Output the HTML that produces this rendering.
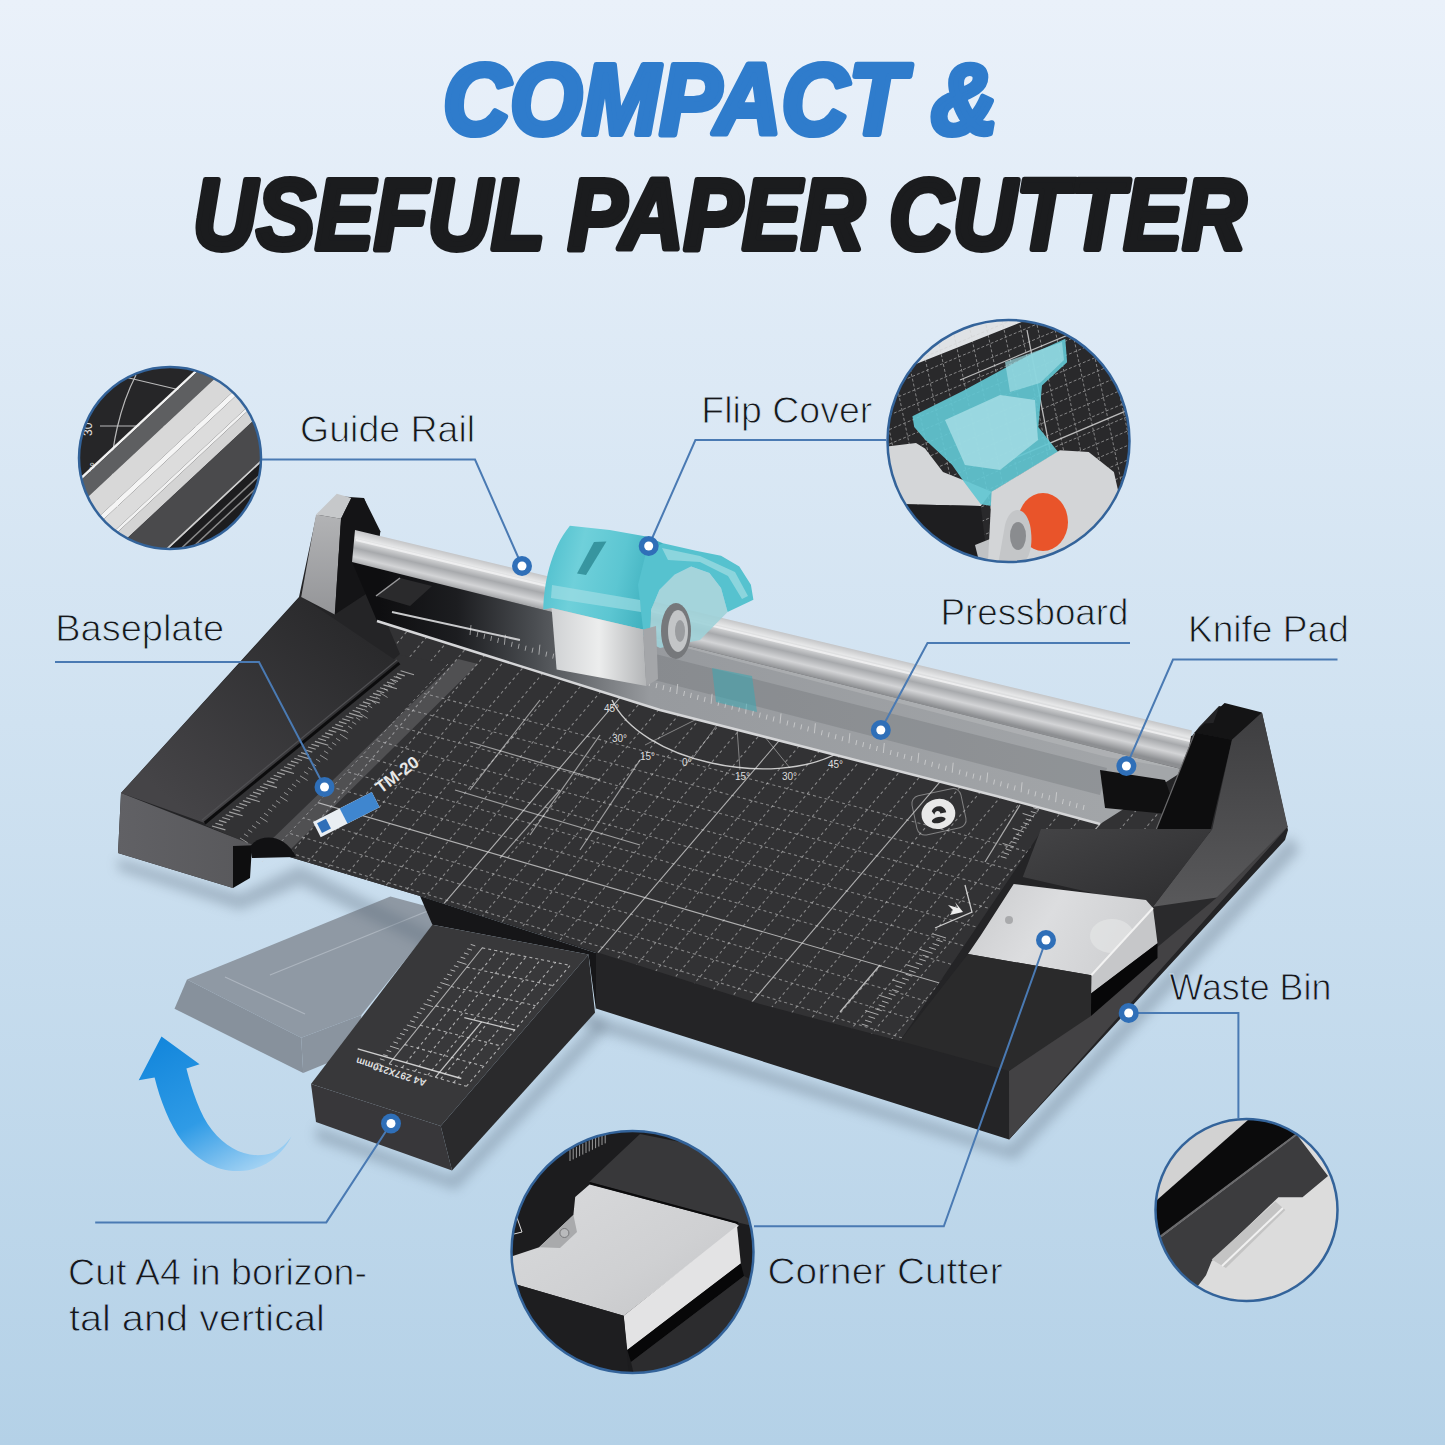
<!DOCTYPE html>
<html><head><meta charset="utf-8"><title>Compact &amp; Useful Paper Cutter</title>
<style>html,body{margin:0;padding:0;width:1445px;height:1445px;overflow:hidden;background:#dce8f4;font-family:"Liberation Sans",sans-serif}svg{display:block}</style>
</head><body>
<svg width="1445" height="1445" viewBox="0 0 1445 1445">
<defs>
<linearGradient id="bg" x1="0" y1="0" x2="0" y2="1">
  <stop offset="0" stop-color="#eaf1fa"/>
  <stop offset="0.5" stop-color="#d0e2f1"/>
  <stop offset="1" stop-color="#b4d1e7"/>
</linearGradient>
<linearGradient id="rail" gradientUnits="userSpaceOnUse" x1="355" y1="530" x2="346.5" y2="565.5">
  <stop offset="0" stop-color="#c4c5c7"/>
  <stop offset="0.2" stop-color="#e6e7e8"/>
  <stop offset="0.48" stop-color="#a7a9ac"/>
  <stop offset="0.72" stop-color="#d3d4d6"/>
  <stop offset="1" stop-color="#8d8f92"/>
</linearGradient>
<linearGradient id="teal" x1="0" y1="0" x2="1" y2="0.2">
  <stop offset="0" stop-color="#49bccb"/>
  <stop offset="0.35" stop-color="#6fd0da"/>
  <stop offset="0.7" stop-color="#5cc6d2"/>
  <stop offset="1" stop-color="#3fb0be"/>
</linearGradient>
<linearGradient id="silv" x1="0" y1="0" x2="1" y2="0">
  <stop offset="0" stop-color="#cfd1d3"/>
  <stop offset="0.5" stop-color="#eceded"/>
  <stop offset="1" stop-color="#b3b5b7"/>
</linearGradient>
<linearGradient id="arrow" x1="0.2" y1="0" x2="0.8" y2="1">
  <stop offset="0" stop-color="#1487dc"/>
  <stop offset="0.55" stop-color="#2f9be6"/>
  <stop offset="1" stop-color="#a9d5f4"/>
</linearGradient>
<linearGradient id="blockfront" x1="0" y1="0" x2="1" y2="0">
  <stop offset="0" stop-color="#616165"/>
  <stop offset="1" stop-color="#58585b"/>
</linearGradient>
<linearGradient id="towerface" x1="0" y1="0" x2="0" y2="1">
  <stop offset="0" stop-color="#b2b3b5"/>
  <stop offset="1" stop-color="#949598"/>
</linearGradient>
<clipPath id="c1"><circle cx="170" cy="458" r="91"/></clipPath>
<clipPath id="c2"><circle cx="1008.5" cy="441" r="121"/></clipPath>
<clipPath id="c3"><circle cx="632.5" cy="1252" r="121"/></clipPath>
<clipPath id="c4"><circle cx="1246.5" cy="1210" r="91"/></clipPath>
</defs>

<rect x="0" y="0" width="1445" height="1445" fill="url(#bg)"/>
<text x="443" y="134" font-family="Liberation Sans" font-weight="bold" font-style="italic" font-size="100" fill="#2f7ccc" stroke="#2f7ccc" stroke-width="6" stroke-linejoin="round" textLength="555" lengthAdjust="spacingAndGlyphs">COMPACT &amp;</text>
<text x="193" y="249" font-family="Liberation Sans" font-weight="bold" font-style="italic" font-size="100" fill="#1b1c1e" stroke="#1b1c1e" stroke-width="6" stroke-linejoin="round" textLength="1053" lengthAdjust="spacingAndGlyphs">USEFUL PAPER CUTTER</text>
<polygon points="187.0,979.6 390.4,896.6 444.4,911.1 361.4,1015.0 301.2,1037.8" fill="#8f99a4" />
<polygon points="187.0,979.6 301.2,1037.8 303.2,1073.0 174.5,1008.7" fill="#87919c" />
<polygon points="301.2,1037.8 361.4,1015.0 359.3,1050.0 303.2,1073.0" fill="#8a949f" />
<g stroke="#b9c1ca" stroke-width="1" opacity="0.7" fill="none">
<line x1="225.0" y1="977.0" x2="305.0" y2="1014.0" stroke="#b9c1ca" stroke-width="1.2" />
<line x1="270.0" y1="975.0" x2="440.0" y2="906.0" stroke="#b9c1ca" stroke-width="1.2" />
</g>
<path d="M161.5,1036.6 L199.6,1064.3 L186.4,1068.4 C192,1090 200,1115 212,1130 C228,1150 250,1160 272,1153 C280,1150 287,1143 291.6,1136.3 C282,1155 265,1170 240,1171 C215,1172 195,1158 182,1141 C170,1125 160,1100 154.6,1077.4 L138.7,1080.2 Z" fill="url(#arrow)"/>
<filter id="shb" x="-20%" y="-20%" width="140%" height="140%"><feGaussianBlur stdDeviation="6"/></filter>
<polygon points="118,858 240,894 300,865 596,1016 1009,1146 1290,836 1300,850 1015,1160 596,1030 300,885 240,910 118,870" fill="#5a6a7a" opacity="0.35" filter="url(#shb)"/>
<polygon points="316,1126 452,1176 600,1016 606,1030 456,1190 316,1140" fill="#5a6a7a" opacity="0.35" filter="url(#shb)"/>
<polygon points="121.0,793.0 299.0,597.0 316.0,517.0 336.0,496.0 364.0,498.0 380.0,540.0 1192.0,736.0 1199.0,727.0 1219.0,706.0 1262.0,713.0 1288.0,830.0 1285.0,840.0 1009.0,1139.6 596.0,1008.5 596.0,953.0 420.0,896.0 293.0,858.0 253.0,846.0 233.0,846.0 233.0,888.0 118.0,853.0" fill="#242426" />
<clipPath id="matclip"><polygon points="377.0,600.0 1150.0,795.0 1210.0,833.0 1042.0,830.0 900.0,1041.0 760.0,1004.0 420.0,896.0 293.0,858.0 253.0,845.0 205.0,825.0 400.0,654.0"/></clipPath>
<polygon points="377.0,600.0 1150.0,795.0 1210.0,833.0 1042.0,830.0 900.0,1041.0 760.0,1004.0 420.0,896.0 293.0,858.0 253.0,845.0 205.0,825.0 400.0,654.0" fill="#323234" />
<g clip-path="url(#matclip)" fill="none">
<line x1="250.0" y1="647.9" x2="1100.0" y2="870.6" stroke="#d9d9d9" stroke-width="1.1" stroke-dasharray="3,3" opacity="0.5"/>
<line x1="250.0" y1="667.2" x2="1100.0" y2="893.3" stroke="#d9d9d9" stroke-width="1.1" stroke-dasharray="3,3" opacity="0.5"/>
<line x1="250.0" y1="686.5" x2="1100.0" y2="916.0" stroke="#d9d9d9" stroke-width="1.1" stroke-dasharray="3,3" opacity="0.5"/>
<line x1="250.0" y1="705.8" x2="1100.0" y2="938.7" stroke="#d9d9d9" stroke-width="1.1" stroke-dasharray="3,3" opacity="0.5"/>
<line x1="250.0" y1="725.1" x2="1100.0" y2="961.4" stroke="#d9d9d9" stroke-width="1.1" stroke-dasharray="3,3" opacity="0.5"/>
<line x1="250.0" y1="744.4" x2="1100.0" y2="984.1" stroke="#d9d9d9" stroke-width="1.1" stroke-dasharray="3,3" opacity="0.5"/>
<line x1="250.0" y1="763.7" x2="1100.0" y2="1006.8" stroke="#d9d9d9" stroke-width="1.1" stroke-dasharray="3,3" opacity="0.5"/>
<line x1="250.0" y1="783.0" x2="1100.0" y2="1029.5" stroke="#d9d9d9" stroke-width="1.1"  opacity="0.75"/>
<line x1="250.0" y1="802.3" x2="1100.0" y2="1052.2" stroke="#d9d9d9" stroke-width="1.1" stroke-dasharray="3,3" opacity="0.5"/>
<line x1="250.0" y1="821.6" x2="1100.0" y2="1074.9" stroke="#d9d9d9" stroke-width="1.1" stroke-dasharray="3,3" opacity="0.5"/>
<line x1="250.0" y1="840.9" x2="1100.0" y2="1097.6" stroke="#d9d9d9" stroke-width="1.1" stroke-dasharray="3,3" opacity="0.5"/>
<line x1="250.0" y1="860.2" x2="1100.0" y2="1120.3" stroke="#d9d9d9" stroke-width="1.1"  opacity="0.75"/>
<line x1="250.0" y1="879.5" x2="1100.0" y2="1143.0" stroke="#d9d9d9" stroke-width="1.1" stroke-dasharray="3,3" opacity="0.5"/>
<line x1="250.0" y1="898.8" x2="1100.0" y2="1165.7" stroke="#d9d9d9" stroke-width="1.1" stroke-dasharray="3,3" opacity="0.5"/>
<line x1="250.0" y1="918.1" x2="1100.0" y2="1188.4" stroke="#d9d9d9" stroke-width="1.1" stroke-dasharray="3,3" opacity="0.5"/>
<line x1="250.0" y1="937.4" x2="1100.0" y2="1211.1" stroke="#d9d9d9" stroke-width="1.1"  opacity="0.75"/>
<line x1="250.0" y1="956.7" x2="1100.0" y2="1233.8" stroke="#d9d9d9" stroke-width="1.1" stroke-dasharray="3,3" opacity="0.5"/>
<line x1="250.0" y1="976.0" x2="1100.0" y2="1256.5" stroke="#d9d9d9" stroke-width="1.1" stroke-dasharray="3,3" opacity="0.5"/>
<line x1="409.4" y1="600.0" x2="-17.9" y2="1100.0" stroke="#d9d9d9" stroke-width="1.1" stroke-dasharray="3,3" opacity="0.5"/>
<line x1="433.9" y1="600.0" x2="6.6" y2="1100.0" stroke="#d9d9d9" stroke-width="1.1" stroke-dasharray="3,3" opacity="0.5"/>
<line x1="458.4" y1="600.0" x2="31.1" y2="1100.0" stroke="#d9d9d9" stroke-width="1.1" stroke-dasharray="3,3" opacity="0.5"/>
<line x1="482.9" y1="600.0" x2="55.6" y2="1100.0" stroke="#d9d9d9" stroke-width="1.1" stroke-dasharray="3,3" opacity="0.5"/>
<line x1="507.4" y1="600.0" x2="80.1" y2="1100.0" stroke="#d9d9d9" stroke-width="1.1" stroke-dasharray="3,3" opacity="0.5"/>
<line x1="531.9" y1="600.0" x2="104.6" y2="1100.0" stroke="#d9d9d9" stroke-width="1.1" stroke-dasharray="3,3" opacity="0.5"/>
<line x1="556.4" y1="600.0" x2="129.1" y2="1100.0" stroke="#d9d9d9" stroke-width="1.1" stroke-dasharray="3,3" opacity="0.5"/>
<line x1="580.9" y1="600.0" x2="153.6" y2="1100.0" stroke="#d9d9d9" stroke-width="1.1" stroke-dasharray="3,3" opacity="0.5"/>
<line x1="605.4" y1="600.0" x2="178.1" y2="1100.0" stroke="#d9d9d9" stroke-width="1.1" stroke-dasharray="3,3" opacity="0.5"/>
<line x1="629.9" y1="600.0" x2="202.6" y2="1100.0" stroke="#d9d9d9" stroke-width="1.1" stroke-dasharray="3,3" opacity="0.5"/>
<line x1="654.4" y1="600.0" x2="227.1" y2="1100.0" stroke="#d9d9d9" stroke-width="1.1" stroke-dasharray="3,3" opacity="0.5"/>
<line x1="678.9" y1="600.0" x2="251.6" y2="1100.0" stroke="#d9d9d9" stroke-width="1.1" stroke-dasharray="3,3" opacity="0.5"/>
<line x1="703.4" y1="600.0" x2="276.1" y2="1100.0" stroke="#d9d9d9" stroke-width="1.1"  opacity="0.75"/>
<line x1="727.9" y1="600.0" x2="300.6" y2="1100.0" stroke="#d9d9d9" stroke-width="1.1" stroke-dasharray="3,3" opacity="0.5"/>
<line x1="752.4" y1="600.0" x2="325.1" y2="1100.0" stroke="#d9d9d9" stroke-width="1.1" stroke-dasharray="3,3" opacity="0.5"/>
<line x1="776.9" y1="600.0" x2="349.6" y2="1100.0" stroke="#d9d9d9" stroke-width="1.1" stroke-dasharray="3,3" opacity="0.5"/>
<line x1="801.4" y1="600.0" x2="374.1" y2="1100.0" stroke="#d9d9d9" stroke-width="1.1" stroke-dasharray="3,3" opacity="0.5"/>
<line x1="825.9" y1="600.0" x2="398.6" y2="1100.0" stroke="#d9d9d9" stroke-width="1.1" stroke-dasharray="3,3" opacity="0.5"/>
<line x1="850.4" y1="600.0" x2="423.1" y2="1100.0" stroke="#d9d9d9" stroke-width="1.1" stroke-dasharray="3,3" opacity="0.5"/>
<line x1="874.9" y1="600.0" x2="447.6" y2="1100.0" stroke="#d9d9d9" stroke-width="1.1" stroke-dasharray="3,3" opacity="0.5"/>
<line x1="899.4" y1="600.0" x2="472.1" y2="1100.0" stroke="#d9d9d9" stroke-width="1.1"  opacity="0.75"/>
<line x1="923.9" y1="600.0" x2="496.6" y2="1100.0" stroke="#d9d9d9" stroke-width="1.1" stroke-dasharray="3,3" opacity="0.5"/>
<line x1="948.4" y1="600.0" x2="521.1" y2="1100.0" stroke="#d9d9d9" stroke-width="1.1" stroke-dasharray="3,3" opacity="0.5"/>
<line x1="972.9" y1="600.0" x2="545.6" y2="1100.0" stroke="#d9d9d9" stroke-width="1.1" stroke-dasharray="3,3" opacity="0.5"/>
<line x1="997.4" y1="600.0" x2="570.1" y2="1100.0" stroke="#d9d9d9" stroke-width="1.1" stroke-dasharray="3,3" opacity="0.5"/>
<line x1="1021.9" y1="600.0" x2="594.6" y2="1100.0" stroke="#d9d9d9" stroke-width="1.1" stroke-dasharray="3,3" opacity="0.5"/>
<line x1="1046.4" y1="600.0" x2="619.1" y2="1100.0" stroke="#d9d9d9" stroke-width="1.1" stroke-dasharray="3,3" opacity="0.5"/>
<line x1="1070.9" y1="600.0" x2="643.6" y2="1100.0" stroke="#d9d9d9" stroke-width="1.1" stroke-dasharray="3,3" opacity="0.5"/>
<line x1="1095.4" y1="600.0" x2="668.1" y2="1100.0" stroke="#d9d9d9" stroke-width="1.1"  opacity="0.75"/>
<line x1="1119.9" y1="600.0" x2="692.6" y2="1100.0" stroke="#d9d9d9" stroke-width="1.1" stroke-dasharray="3,3" opacity="0.5"/>
<line x1="1144.4" y1="600.0" x2="717.1" y2="1100.0" stroke="#d9d9d9" stroke-width="1.1" stroke-dasharray="3,3" opacity="0.5"/>
<line x1="1168.9" y1="600.0" x2="741.6" y2="1100.0" stroke="#d9d9d9" stroke-width="1.1" stroke-dasharray="3,3" opacity="0.5"/>
<line x1="1193.4" y1="600.0" x2="766.1" y2="1100.0" stroke="#d9d9d9" stroke-width="1.1" stroke-dasharray="3,3" opacity="0.5"/>
<line x1="1217.9" y1="600.0" x2="790.6" y2="1100.0" stroke="#d9d9d9" stroke-width="1.1" stroke-dasharray="3,3" opacity="0.5"/>
<line x1="1242.4" y1="600.0" x2="815.1" y2="1100.0" stroke="#d9d9d9" stroke-width="1.1" stroke-dasharray="3,3" opacity="0.5"/>
<line x1="1266.9" y1="600.0" x2="839.6" y2="1100.0" stroke="#d9d9d9" stroke-width="1.1" stroke-dasharray="3,3" opacity="0.5"/>
<line x1="1291.4" y1="600.0" x2="864.1" y2="1100.0" stroke="#d9d9d9" stroke-width="1.1"  opacity="0.75"/>
<line x1="1315.9" y1="600.0" x2="888.6" y2="1100.0" stroke="#d9d9d9" stroke-width="1.1" stroke-dasharray="3,3" opacity="0.5"/>
<line x1="1340.4" y1="600.0" x2="913.1" y2="1100.0" stroke="#d9d9d9" stroke-width="1.1" stroke-dasharray="3,3" opacity="0.5"/>
<line x1="1364.9" y1="600.0" x2="937.6" y2="1100.0" stroke="#d9d9d9" stroke-width="1.1" stroke-dasharray="3,3" opacity="0.5"/>
<line x1="1389.4" y1="600.0" x2="962.1" y2="1100.0" stroke="#d9d9d9" stroke-width="1.1" stroke-dasharray="3,3" opacity="0.5"/>
<line x1="1413.9" y1="600.0" x2="986.6" y2="1100.0" stroke="#d9d9d9" stroke-width="1.1" stroke-dasharray="3,3" opacity="0.5"/>
<line x1="1438.4" y1="600.0" x2="1011.1" y2="1100.0" stroke="#d9d9d9" stroke-width="1.1" stroke-dasharray="3,3" opacity="0.5"/>
<line x1="1462.9" y1="600.0" x2="1035.6" y2="1100.0" stroke="#d9d9d9" stroke-width="1.1" stroke-dasharray="3,3" opacity="0.5"/>
<line x1="1487.4" y1="600.0" x2="1060.1" y2="1100.0" stroke="#d9d9d9" stroke-width="1.1" stroke-dasharray="3,3" opacity="0.5"/>
<line x1="1511.9" y1="600.0" x2="1084.6" y2="1100.0" stroke="#d9d9d9" stroke-width="1.1" stroke-dasharray="3,3" opacity="0.5"/>
</g>
<g clip-path="url(#matclip)" fill="none" stroke="#e6e6e6">
<path d="M612,700 C640,760 770,790 840,752" stroke-width="1.4" opacity="0.85"/>
<text x="640" y="760" font-family="Liberation Sans" font-size="10" fill="#dddddd" stroke="none">15°</text>
<text x="682" y="766" font-family="Liberation Sans" font-size="10" fill="#dddddd" stroke="none">0°</text>
<text x="735" y="780" font-family="Liberation Sans" font-size="10" fill="#dddddd" stroke="none">15°</text>
<text x="782" y="780" font-family="Liberation Sans" font-size="10" fill="#dddddd" stroke="none">30°</text>
<text x="828" y="768" font-family="Liberation Sans" font-size="10" fill="#dddddd" stroke="none">45°</text>
<text x="612" y="742" font-family="Liberation Sans" font-size="10" fill="#dddddd" stroke="none">30°</text>
<text x="604" y="712" font-family="Liberation Sans" font-size="10" fill="#dddddd" stroke="none">45°</text>
<line x1="735.0" y1="700.0" x2="645.0" y2="745.0" stroke="#e6e6e6" stroke-width="1" opacity="0.45"/>
<line x1="735.0" y1="700.0" x2="690.0" y2="762.0" stroke="#e6e6e6" stroke-width="1" opacity="0.45"/>
<line x1="735.0" y1="700.0" x2="740.0" y2="770.0" stroke="#e6e6e6" stroke-width="1" opacity="0.45"/>
<line x1="735.0" y1="700.0" x2="790.0" y2="768.0" stroke="#e6e6e6" stroke-width="1" opacity="0.45"/>
<line x1="735.0" y1="700.0" x2="835.0" y2="754.0" stroke="#e6e6e6" stroke-width="1" opacity="0.45"/>
<line x1="470.0" y1="742.0" x2="600.0" y2="780.0" stroke="#e6e6e6" stroke-width="1.2" opacity="0.6"/>
<line x1="455.0" y1="790.0" x2="640.0" y2="845.0" stroke="#e6e6e6" stroke-width="1.2" opacity="0.6"/>
<line x1="540.0" y1="700.0" x2="470.0" y2="790.0" stroke="#e6e6e6" stroke-width="1.2" opacity="0.6"/>
<line x1="600.0" y1="735.0" x2="530.0" y2="835.0" stroke="#e6e6e6" stroke-width="1.2" opacity="0.6"/>
<line x1="640.0" y1="760.0" x2="580.0" y2="850.0" stroke="#e6e6e6" stroke-width="1.2" opacity="0.6"/>
<line x1="500.0" y1="858.0" x2="560.0" y2="790.0" stroke="#e6e6e6" stroke-width="1.2" opacity="0.6"/>
<line x1="1020.0" y1="805.0" x2="985.0" y2="862.0" stroke="#e0e0e0" stroke-width="1.2" opacity="0.7"/>
<line x1="1044.0" y1="802.0" x2="1032.6" y2="798.4" stroke="#e0e0e0" stroke-width="1" opacity="0.7"/>
<line x1="1041.5" y1="805.8" x2="1035.8" y2="804.0" stroke="#e0e0e0" stroke-width="1" opacity="0.7"/>
<line x1="1039.0" y1="809.5" x2="1033.3" y2="807.7" stroke="#e0e0e0" stroke-width="1" opacity="0.7"/>
<line x1="1036.5" y1="813.2" x2="1030.8" y2="811.5" stroke="#e0e0e0" stroke-width="1" opacity="0.7"/>
<line x1="1034.0" y1="817.0" x2="1022.6" y2="813.4" stroke="#e0e0e0" stroke-width="1" opacity="0.7"/>
<line x1="1031.5" y1="820.8" x2="1025.8" y2="819.0" stroke="#e0e0e0" stroke-width="1" opacity="0.7"/>
<line x1="1029.0" y1="824.5" x2="1023.3" y2="822.7" stroke="#e0e0e0" stroke-width="1" opacity="0.7"/>
<line x1="1026.5" y1="828.2" x2="1020.8" y2="826.5" stroke="#e0e0e0" stroke-width="1" opacity="0.7"/>
<line x1="1024.0" y1="832.0" x2="1012.6" y2="828.4" stroke="#e0e0e0" stroke-width="1" opacity="0.7"/>
<line x1="1021.5" y1="835.8" x2="1015.8" y2="834.0" stroke="#e0e0e0" stroke-width="1" opacity="0.7"/>
<line x1="1019.0" y1="839.5" x2="1013.3" y2="837.7" stroke="#e0e0e0" stroke-width="1" opacity="0.7"/>
<line x1="1016.5" y1="843.2" x2="1010.8" y2="841.5" stroke="#e0e0e0" stroke-width="1" opacity="0.7"/>
<line x1="1014.0" y1="847.0" x2="1002.6" y2="843.4" stroke="#e0e0e0" stroke-width="1" opacity="0.7"/>
<line x1="1011.5" y1="850.8" x2="1005.8" y2="849.0" stroke="#e0e0e0" stroke-width="1" opacity="0.7"/>
<line x1="1009.0" y1="854.5" x2="1003.3" y2="852.7" stroke="#e0e0e0" stroke-width="1" opacity="0.7"/>
<line x1="1006.5" y1="858.2" x2="1000.8" y2="856.5" stroke="#e0e0e0" stroke-width="1" opacity="0.7"/>
<line x1="946.0" y1="938.0" x2="932.7" y2="933.8" stroke="#e0e0e0" stroke-width="1" opacity="0.7"/>
<line x1="942.6" y1="941.8" x2="936.0" y2="939.7" stroke="#e0e0e0" stroke-width="1" opacity="0.7"/>
<line x1="939.2" y1="945.7" x2="932.6" y2="943.6" stroke="#e0e0e0" stroke-width="1" opacity="0.7"/>
<line x1="935.9" y1="949.5" x2="929.2" y2="947.4" stroke="#e0e0e0" stroke-width="1" opacity="0.7"/>
<line x1="932.5" y1="953.3" x2="919.2" y2="949.1" stroke="#e0e0e0" stroke-width="1" opacity="0.7"/>
<line x1="929.1" y1="957.2" x2="922.5" y2="955.1" stroke="#e0e0e0" stroke-width="1" opacity="0.7"/>
<line x1="925.8" y1="961.0" x2="919.1" y2="958.9" stroke="#e0e0e0" stroke-width="1" opacity="0.7"/>
<line x1="922.4" y1="964.8" x2="915.7" y2="962.7" stroke="#e0e0e0" stroke-width="1" opacity="0.7"/>
<line x1="919.0" y1="968.7" x2="905.7" y2="964.5" stroke="#e0e0e0" stroke-width="1" opacity="0.7"/>
<line x1="915.6" y1="972.5" x2="909.0" y2="970.4" stroke="#e0e0e0" stroke-width="1" opacity="0.7"/>
<line x1="912.2" y1="976.3" x2="905.6" y2="974.2" stroke="#e0e0e0" stroke-width="1" opacity="0.7"/>
<line x1="908.9" y1="980.2" x2="902.2" y2="978.1" stroke="#e0e0e0" stroke-width="1" opacity="0.7"/>
<line x1="905.5" y1="984.0" x2="892.2" y2="979.8" stroke="#e0e0e0" stroke-width="1" opacity="0.7"/>
<line x1="902.1" y1="987.8" x2="895.5" y2="985.7" stroke="#e0e0e0" stroke-width="1" opacity="0.7"/>
<line x1="898.8" y1="991.7" x2="892.1" y2="989.6" stroke="#e0e0e0" stroke-width="1" opacity="0.7"/>
<line x1="895.4" y1="995.5" x2="888.7" y2="993.4" stroke="#e0e0e0" stroke-width="1" opacity="0.7"/>
<line x1="892.0" y1="999.3" x2="878.7" y2="995.1" stroke="#e0e0e0" stroke-width="1" opacity="0.7"/>
<line x1="888.6" y1="1003.2" x2="882.0" y2="1001.1" stroke="#e0e0e0" stroke-width="1" opacity="0.7"/>
<line x1="885.2" y1="1007.0" x2="878.6" y2="1004.9" stroke="#e0e0e0" stroke-width="1" opacity="0.7"/>
<line x1="881.9" y1="1010.8" x2="875.2" y2="1008.7" stroke="#e0e0e0" stroke-width="1" opacity="0.7"/>
<line x1="878.5" y1="1014.7" x2="865.2" y2="1010.5" stroke="#e0e0e0" stroke-width="1" opacity="0.7"/>
<line x1="875.1" y1="1018.5" x2="868.5" y2="1016.4" stroke="#e0e0e0" stroke-width="1" opacity="0.7"/>
<line x1="871.8" y1="1022.3" x2="865.1" y2="1020.2" stroke="#e0e0e0" stroke-width="1" opacity="0.7"/>
<line x1="868.4" y1="1026.2" x2="861.7" y2="1024.1" stroke="#e0e0e0" stroke-width="1" opacity="0.7"/>
<line x1="880.0" y1="965.0" x2="840.0" y2="1012.0" stroke="#e0e0e0" stroke-width="1.2" opacity="0.8"/>
<path d="M935,928 L972,912 L965,885" stroke-width="1.3" opacity="0.85"/>
</g>
<path d="M948,905 L958,908 L955,902 L963,912 L950,915 L953,910 Z" fill="#eeeeee"/>
<g transform="translate(938,812) rotate(-12)"><rect x="-24" y="-20" width="50" height="40" rx="8" fill="none" stroke="#cfcfcf" stroke-width="1" opacity="0.5"/><ellipse cx="0" cy="2" rx="17" ry="15" fill="#e8e8e8"/><path d="M-6,-2 C-2,-8 8,-6 8,2 L2,2 C2,-2 -3,-2 -4,2 Z" fill="#29292b"/><ellipse cx="-1" cy="8" rx="7" ry="3" fill="#29292b"/></g>
<g clip-path="url(#matclip)">
<polygon points="400.0,655.0 448.0,664.0 262.0,862.0 205.0,825.0" fill="#323234" />
</g>
<polyline points="448,664 262,862" fill="none" stroke="#cfcfcf" stroke-width="1" stroke-dasharray="3,3" opacity="0.5"/>
<g stroke="#d0d0d0" stroke-width="1.1" opacity="0.7">
<line x1="212.0" y1="826.0" x2="225.4" y2="829.9" stroke="#d0d0d0" stroke-width="1.1" />
<line x1="215.4" y1="823.2" x2="223.1" y2="825.4" stroke="#d0d0d0" stroke-width="1.1" />
<line x1="218.9" y1="820.4" x2="226.5" y2="822.6" stroke="#d0d0d0" stroke-width="1.1" />
<line x1="222.3" y1="817.5" x2="230.0" y2="819.8" stroke="#d0d0d0" stroke-width="1.1" />
<line x1="225.7" y1="814.7" x2="233.4" y2="817.0" stroke="#d0d0d0" stroke-width="1.1" />
<line x1="229.1" y1="811.9" x2="242.6" y2="815.8" stroke="#d0d0d0" stroke-width="1.1" />
<line x1="232.6" y1="809.1" x2="240.3" y2="811.3" stroke="#d0d0d0" stroke-width="1.1" />
<line x1="236.0" y1="806.2" x2="243.7" y2="808.5" stroke="#d0d0d0" stroke-width="1.1" />
<line x1="239.4" y1="803.4" x2="247.1" y2="805.7" stroke="#d0d0d0" stroke-width="1.1" />
<line x1="242.9" y1="800.6" x2="250.5" y2="802.8" stroke="#d0d0d0" stroke-width="1.1" />
<line x1="246.3" y1="797.8" x2="259.7" y2="801.7" stroke="#d0d0d0" stroke-width="1.1" />
<line x1="249.7" y1="795.0" x2="257.4" y2="797.2" stroke="#d0d0d0" stroke-width="1.1" />
<line x1="253.1" y1="792.1" x2="260.8" y2="794.4" stroke="#d0d0d0" stroke-width="1.1" />
<line x1="256.6" y1="789.3" x2="264.3" y2="791.6" stroke="#d0d0d0" stroke-width="1.1" />
<line x1="260.0" y1="786.5" x2="267.7" y2="788.7" stroke="#d0d0d0" stroke-width="1.1" />
<line x1="263.4" y1="783.7" x2="276.9" y2="787.6" stroke="#d0d0d0" stroke-width="1.1" />
<line x1="266.9" y1="780.9" x2="274.5" y2="783.1" stroke="#d0d0d0" stroke-width="1.1" />
<line x1="270.3" y1="778.0" x2="278.0" y2="780.3" stroke="#d0d0d0" stroke-width="1.1" />
<line x1="273.7" y1="775.2" x2="281.4" y2="777.5" stroke="#d0d0d0" stroke-width="1.1" />
<line x1="277.1" y1="772.4" x2="284.8" y2="774.6" stroke="#d0d0d0" stroke-width="1.1" />
<line x1="280.6" y1="769.6" x2="294.0" y2="773.5" stroke="#d0d0d0" stroke-width="1.1" />
<line x1="284.0" y1="766.8" x2="291.7" y2="769.0" stroke="#d0d0d0" stroke-width="1.1" />
<line x1="287.4" y1="763.9" x2="295.1" y2="766.2" stroke="#d0d0d0" stroke-width="1.1" />
<line x1="290.9" y1="761.1" x2="298.5" y2="763.3" stroke="#d0d0d0" stroke-width="1.1" />
<line x1="294.3" y1="758.3" x2="302.0" y2="760.5" stroke="#d0d0d0" stroke-width="1.1" />
<line x1="297.7" y1="755.5" x2="311.2" y2="759.4" stroke="#d0d0d0" stroke-width="1.1" />
<line x1="301.1" y1="752.6" x2="308.8" y2="754.9" stroke="#d0d0d0" stroke-width="1.1" />
<line x1="304.6" y1="749.8" x2="312.3" y2="752.1" stroke="#d0d0d0" stroke-width="1.1" />
<line x1="308.0" y1="747.0" x2="315.7" y2="749.2" stroke="#d0d0d0" stroke-width="1.1" />
<line x1="311.4" y1="744.2" x2="319.1" y2="746.4" stroke="#d0d0d0" stroke-width="1.1" />
<line x1="314.9" y1="741.4" x2="328.3" y2="745.3" stroke="#d0d0d0" stroke-width="1.1" />
<line x1="318.3" y1="738.5" x2="326.0" y2="740.8" stroke="#d0d0d0" stroke-width="1.1" />
<line x1="321.7" y1="735.7" x2="329.4" y2="738.0" stroke="#d0d0d0" stroke-width="1.1" />
<line x1="325.1" y1="732.9" x2="332.8" y2="735.1" stroke="#d0d0d0" stroke-width="1.1" />
<line x1="328.6" y1="730.1" x2="336.3" y2="732.3" stroke="#d0d0d0" stroke-width="1.1" />
<line x1="332.0" y1="727.2" x2="345.4" y2="731.2" stroke="#d0d0d0" stroke-width="1.1" />
<line x1="335.4" y1="724.4" x2="343.1" y2="726.7" stroke="#d0d0d0" stroke-width="1.1" />
<line x1="338.9" y1="721.6" x2="346.5" y2="723.8" stroke="#d0d0d0" stroke-width="1.1" />
<line x1="342.3" y1="718.8" x2="350.0" y2="721.0" stroke="#d0d0d0" stroke-width="1.1" />
<line x1="345.7" y1="716.0" x2="353.4" y2="718.2" stroke="#d0d0d0" stroke-width="1.1" />
<line x1="349.1" y1="713.1" x2="362.6" y2="717.1" stroke="#d0d0d0" stroke-width="1.1" />
<line x1="352.6" y1="710.3" x2="360.3" y2="712.6" stroke="#d0d0d0" stroke-width="1.1" />
<line x1="356.0" y1="707.5" x2="363.7" y2="709.7" stroke="#d0d0d0" stroke-width="1.1" />
<line x1="359.4" y1="704.7" x2="367.1" y2="706.9" stroke="#d0d0d0" stroke-width="1.1" />
<line x1="362.9" y1="701.9" x2="370.5" y2="704.1" stroke="#d0d0d0" stroke-width="1.1" />
<line x1="366.3" y1="699.0" x2="379.7" y2="703.0" stroke="#d0d0d0" stroke-width="1.1" />
<line x1="369.7" y1="696.2" x2="377.4" y2="698.5" stroke="#d0d0d0" stroke-width="1.1" />
<line x1="373.1" y1="693.4" x2="380.8" y2="695.6" stroke="#d0d0d0" stroke-width="1.1" />
<line x1="376.6" y1="690.6" x2="384.3" y2="692.8" stroke="#d0d0d0" stroke-width="1.1" />
<line x1="380.0" y1="687.8" x2="387.7" y2="690.0" stroke="#d0d0d0" stroke-width="1.1" />
<line x1="383.4" y1="684.9" x2="396.9" y2="688.8" stroke="#d0d0d0" stroke-width="1.1" />
<line x1="386.9" y1="682.1" x2="394.5" y2="684.3" stroke="#d0d0d0" stroke-width="1.1" />
<line x1="390.3" y1="679.3" x2="398.0" y2="681.5" stroke="#d0d0d0" stroke-width="1.1" />
<line x1="393.7" y1="676.5" x2="401.4" y2="678.7" stroke="#d0d0d0" stroke-width="1.1" />
<line x1="397.1" y1="673.6" x2="404.8" y2="675.9" stroke="#d0d0d0" stroke-width="1.1" />
<line x1="400.6" y1="670.8" x2="414.0" y2="674.7" stroke="#d0d0d0" stroke-width="1.1" />
</g>
<polygon points="268.0,843.0 290.0,850.0 478.0,664.0 458.0,659.0" fill="#d8dadc" opacity="0.18"/>
<linearGradient id="lbt" gradientUnits="userSpaceOnUse" x1="330" y1="610" x2="170" y2="800"><stop offset="0" stop-color="#2a2a2c"/><stop offset="1" stop-color="#454447"/></linearGradient>
<polygon points="121.0,793.0 300.6,596.3 399.4,663.1 204.7,823.0" fill="url(#lbt)" />
<line x1="399.4" y1="663.1" x2="204.7" y2="823.0" stroke="#0c0c0d" stroke-width="3" />
<line x1="397.0" y1="660.0" x2="202.0" y2="820.0" stroke="#505053" stroke-width="1.2" />
<g transform="translate(313,822) rotate(-27)"><rect x="0" y="0" width="66" height="17" fill="#e9eef3"/><rect x="30" y="0" width="36" height="17" fill="#3f86cf"/><rect x="3" y="3" width="10" height="11" fill="#2f6fb8"/></g>
<text x="0" y="0" transform="translate(381,794) rotate(-37)" font-family="Liberation Sans" font-weight="bold" font-size="17" fill="#e8e8e8">TM-20</text>
<polygon points="121.0,793.0 253.0,845.0 233.0,846.0 233.0,888.0 118.0,853.0" fill="url(#blockfront)" />
<polygon points="233.0,846.0 252.0,846.0 250.0,878.0 233.0,888.0" fill="#0e0e0f" />
<path d="M250,847 C258,834 284,832 296,857 L252,858 Z" fill="#111113"/>
<g stroke="#cfcfcf" stroke-width="1" opacity="0.6">
<line x1="240.0" y1="838.0" x2="247.7" y2="842.8" stroke="#cfcfcf" stroke-width="1" />
<line x1="244.0" y1="833.9" x2="248.2" y2="836.5" stroke="#cfcfcf" stroke-width="1" />
<line x1="248.0" y1="829.7" x2="252.2" y2="832.4" stroke="#cfcfcf" stroke-width="1" />
<line x1="252.0" y1="825.5" x2="256.2" y2="828.2" stroke="#cfcfcf" stroke-width="1" />
<line x1="256.0" y1="821.4" x2="260.2" y2="824.0" stroke="#cfcfcf" stroke-width="1" />
<line x1="260.0" y1="817.2" x2="267.6" y2="822.0" stroke="#cfcfcf" stroke-width="1" />
<line x1="264.0" y1="813.1" x2="268.2" y2="815.8" stroke="#cfcfcf" stroke-width="1" />
<line x1="268.0" y1="809.0" x2="272.2" y2="811.6" stroke="#cfcfcf" stroke-width="1" />
<line x1="272.0" y1="804.8" x2="276.2" y2="807.4" stroke="#cfcfcf" stroke-width="1" />
<line x1="276.0" y1="800.6" x2="280.2" y2="803.3" stroke="#cfcfcf" stroke-width="1" />
<line x1="280.0" y1="796.5" x2="287.6" y2="801.3" stroke="#cfcfcf" stroke-width="1" />
<line x1="284.0" y1="792.4" x2="288.2" y2="795.0" stroke="#cfcfcf" stroke-width="1" />
<line x1="288.0" y1="788.2" x2="292.2" y2="790.9" stroke="#cfcfcf" stroke-width="1" />
<line x1="292.0" y1="784.0" x2="296.2" y2="786.7" stroke="#cfcfcf" stroke-width="1" />
<line x1="296.0" y1="779.9" x2="300.2" y2="782.5" stroke="#cfcfcf" stroke-width="1" />
<line x1="300.0" y1="775.8" x2="307.6" y2="780.5" stroke="#cfcfcf" stroke-width="1" />
<line x1="304.0" y1="771.6" x2="308.2" y2="774.2" stroke="#cfcfcf" stroke-width="1" />
<line x1="308.0" y1="767.5" x2="312.2" y2="770.1" stroke="#cfcfcf" stroke-width="1" />
<line x1="312.0" y1="763.3" x2="316.2" y2="765.9" stroke="#cfcfcf" stroke-width="1" />
<line x1="316.0" y1="759.1" x2="320.2" y2="761.8" stroke="#cfcfcf" stroke-width="1" />
<line x1="320.0" y1="755.0" x2="327.6" y2="759.8" stroke="#cfcfcf" stroke-width="1" />
<line x1="324.0" y1="750.9" x2="328.2" y2="753.5" stroke="#cfcfcf" stroke-width="1" />
<line x1="328.0" y1="746.7" x2="332.2" y2="749.4" stroke="#cfcfcf" stroke-width="1" />
<line x1="332.0" y1="742.5" x2="336.2" y2="745.2" stroke="#cfcfcf" stroke-width="1" />
<line x1="336.0" y1="738.4" x2="340.2" y2="741.0" stroke="#cfcfcf" stroke-width="1" />
<line x1="340.0" y1="734.2" x2="347.6" y2="739.0" stroke="#cfcfcf" stroke-width="1" />
<line x1="344.0" y1="730.1" x2="348.2" y2="732.8" stroke="#cfcfcf" stroke-width="1" />
<line x1="348.0" y1="726.0" x2="352.2" y2="728.6" stroke="#cfcfcf" stroke-width="1" />
<line x1="352.0" y1="721.8" x2="356.2" y2="724.4" stroke="#cfcfcf" stroke-width="1" />
<line x1="356.0" y1="717.6" x2="360.2" y2="720.3" stroke="#cfcfcf" stroke-width="1" />
<line x1="360.0" y1="713.5" x2="367.6" y2="718.3" stroke="#cfcfcf" stroke-width="1" />
<line x1="364.0" y1="709.4" x2="368.2" y2="712.0" stroke="#cfcfcf" stroke-width="1" />
<line x1="368.0" y1="705.2" x2="372.2" y2="707.9" stroke="#cfcfcf" stroke-width="1" />
<line x1="372.0" y1="701.0" x2="376.2" y2="703.7" stroke="#cfcfcf" stroke-width="1" />
<line x1="376.0" y1="696.9" x2="380.2" y2="699.5" stroke="#cfcfcf" stroke-width="1" />
<line x1="380.0" y1="692.8" x2="387.6" y2="697.5" stroke="#cfcfcf" stroke-width="1" />
<line x1="384.0" y1="688.6" x2="388.2" y2="691.2" stroke="#cfcfcf" stroke-width="1" />
<line x1="388.0" y1="684.5" x2="392.2" y2="687.1" stroke="#cfcfcf" stroke-width="1" />
<line x1="392.0" y1="680.3" x2="396.2" y2="682.9" stroke="#cfcfcf" stroke-width="1" />
<line x1="396.0" y1="676.1" x2="400.2" y2="678.8" stroke="#cfcfcf" stroke-width="1" />
</g>
<polygon points="316.0,514.6 341.0,518.7 334.8,614.5 301.2,597.0" fill="url(#towerface)" />
<polygon points="316.0,514.6 336.8,493.8 351.3,498.0 341.0,518.7" fill="#c6c8ca" />
<polygon points="341.0,518.7 351.3,498.0 363.8,498.0 380.4,531.2 372.0,590.0 334.8,614.5" fill="#141416" />
<linearGradient id="pbg" gradientUnits="userSpaceOnUse" x1="380" y1="0" x2="1150" y2="0"><stop offset="0" stop-color="#0e0e10"/><stop offset="0.1" stop-color="#1c1d20"/><stop offset="0.2" stop-color="#4a4d51"/><stop offset="0.35" stop-color="#979a9e"/><stop offset="1" stop-color="#a3a6a9"/></linearGradient>
<polygon points="352.0,562.0 1185.0,770.0 1100.0,824.0 1000.0,797.0 660.0,710.0 377.0,621.0" fill="url(#pbg)" />
<polygon points="640.0,623.0 1185.0,770.0 1107.0,757.0 640.0,636.0" fill="#b9bbbe" opacity="0.5"/>
<polygon points="600.0,640.0 1107.0,768.0 1100.0,795.0 600.0,666.0" fill="#5d6064" opacity="0.25"/>
<polygon points="376.0,596.0 400.0,578.0 432.0,586.0 410.0,606.0" fill="#2a2a2c" />
<line x1="376.0" y1="596.0" x2="400.0" y2="578.0" stroke="#9a9a9c" stroke-width="1.5" />
<line x1="392.0" y1="612.0" x2="520.0" y2="640.0" stroke="#c9cacc" stroke-width="2" />
<g stroke="#e2e2e2" stroke-width="1" opacity="0.6">
<line x1="470.0" y1="635.0" x2="471.0" y2="625.0" stroke="#e2e2e2" stroke-width="1" />
<line x1="476.9" y1="637.0" x2="477.9" y2="632.0" stroke="#e2e2e2" stroke-width="1" />
<line x1="483.8" y1="638.9" x2="484.8" y2="633.9" stroke="#e2e2e2" stroke-width="1" />
<line x1="490.7" y1="640.9" x2="491.7" y2="635.9" stroke="#e2e2e2" stroke-width="1" />
<line x1="497.6" y1="642.9" x2="498.6" y2="637.9" stroke="#e2e2e2" stroke-width="1" />
<line x1="504.4" y1="644.8" x2="505.4" y2="634.8" stroke="#e2e2e2" stroke-width="1" />
<line x1="511.3" y1="646.8" x2="512.3" y2="641.8" stroke="#e2e2e2" stroke-width="1" />
<line x1="518.2" y1="648.8" x2="519.2" y2="643.8" stroke="#e2e2e2" stroke-width="1" />
<line x1="525.1" y1="650.7" x2="526.1" y2="645.7" stroke="#e2e2e2" stroke-width="1" />
<line x1="532.0" y1="652.7" x2="533.0" y2="647.7" stroke="#e2e2e2" stroke-width="1" />
<line x1="538.9" y1="654.7" x2="539.9" y2="644.7" stroke="#e2e2e2" stroke-width="1" />
<line x1="545.8" y1="656.6" x2="546.8" y2="651.6" stroke="#e2e2e2" stroke-width="1" />
<line x1="552.7" y1="658.6" x2="553.7" y2="653.6" stroke="#e2e2e2" stroke-width="1" />
<line x1="559.6" y1="660.6" x2="560.6" y2="655.6" stroke="#e2e2e2" stroke-width="1" />
<line x1="566.4" y1="662.5" x2="567.4" y2="657.5" stroke="#e2e2e2" stroke-width="1" />
<line x1="573.3" y1="664.5" x2="574.3" y2="654.5" stroke="#e2e2e2" stroke-width="1" />
<line x1="580.2" y1="666.5" x2="581.2" y2="661.5" stroke="#e2e2e2" stroke-width="1" />
<line x1="587.1" y1="668.4" x2="588.1" y2="663.4" stroke="#e2e2e2" stroke-width="1" />
<line x1="594.0" y1="670.4" x2="595.0" y2="665.4" stroke="#e2e2e2" stroke-width="1" />
<line x1="600.9" y1="672.4" x2="601.9" y2="667.4" stroke="#e2e2e2" stroke-width="1" />
<line x1="607.8" y1="674.3" x2="608.8" y2="664.3" stroke="#e2e2e2" stroke-width="1" />
<line x1="614.7" y1="676.3" x2="615.7" y2="671.3" stroke="#e2e2e2" stroke-width="1" />
<line x1="621.6" y1="678.3" x2="622.6" y2="673.3" stroke="#e2e2e2" stroke-width="1" />
<line x1="628.4" y1="680.2" x2="629.4" y2="675.2" stroke="#e2e2e2" stroke-width="1" />
<line x1="635.3" y1="682.2" x2="636.3" y2="677.2" stroke="#e2e2e2" stroke-width="1" />
<line x1="642.2" y1="684.2" x2="643.2" y2="674.2" stroke="#e2e2e2" stroke-width="1" />
<line x1="649.1" y1="686.1" x2="650.1" y2="681.1" stroke="#e2e2e2" stroke-width="1" />
<line x1="656.0" y1="688.1" x2="657.0" y2="683.1" stroke="#e2e2e2" stroke-width="1" />
<line x1="662.9" y1="690.1" x2="663.9" y2="685.1" stroke="#e2e2e2" stroke-width="1" />
<line x1="669.8" y1="692.0" x2="670.8" y2="687.0" stroke="#e2e2e2" stroke-width="1" />
<line x1="676.7" y1="694.0" x2="677.7" y2="684.0" stroke="#e2e2e2" stroke-width="1" />
<line x1="683.6" y1="696.0" x2="684.6" y2="691.0" stroke="#e2e2e2" stroke-width="1" />
<line x1="690.4" y1="697.9" x2="691.4" y2="692.9" stroke="#e2e2e2" stroke-width="1" />
<line x1="697.3" y1="699.9" x2="698.3" y2="694.9" stroke="#e2e2e2" stroke-width="1" />
<line x1="704.2" y1="701.9" x2="705.2" y2="696.9" stroke="#e2e2e2" stroke-width="1" />
<line x1="711.1" y1="703.8" x2="712.1" y2="693.8" stroke="#e2e2e2" stroke-width="1" />
<line x1="718.0" y1="705.8" x2="719.0" y2="700.8" stroke="#e2e2e2" stroke-width="1" />
<line x1="724.9" y1="707.8" x2="725.9" y2="702.8" stroke="#e2e2e2" stroke-width="1" />
<line x1="731.8" y1="709.7" x2="732.8" y2="704.7" stroke="#e2e2e2" stroke-width="1" />
<line x1="738.7" y1="711.7" x2="739.7" y2="706.7" stroke="#e2e2e2" stroke-width="1" />
<line x1="745.6" y1="713.7" x2="746.6" y2="703.7" stroke="#e2e2e2" stroke-width="1" />
<line x1="752.4" y1="715.6" x2="753.4" y2="710.6" stroke="#e2e2e2" stroke-width="1" />
<line x1="759.3" y1="717.6" x2="760.3" y2="712.6" stroke="#e2e2e2" stroke-width="1" />
<line x1="766.2" y1="719.6" x2="767.2" y2="714.6" stroke="#e2e2e2" stroke-width="1" />
<line x1="773.1" y1="721.5" x2="774.1" y2="716.5" stroke="#e2e2e2" stroke-width="1" />
<line x1="780.0" y1="723.5" x2="781.0" y2="713.5" stroke="#e2e2e2" stroke-width="1" />
<line x1="786.9" y1="725.5" x2="787.9" y2="720.5" stroke="#e2e2e2" stroke-width="1" />
<line x1="793.8" y1="727.4" x2="794.8" y2="722.4" stroke="#e2e2e2" stroke-width="1" />
<line x1="800.7" y1="729.4" x2="801.7" y2="724.4" stroke="#e2e2e2" stroke-width="1" />
<line x1="807.6" y1="731.4" x2="808.6" y2="726.4" stroke="#e2e2e2" stroke-width="1" />
<line x1="814.4" y1="733.3" x2="815.4" y2="723.3" stroke="#e2e2e2" stroke-width="1" />
<line x1="821.3" y1="735.3" x2="822.3" y2="730.3" stroke="#e2e2e2" stroke-width="1" />
<line x1="828.2" y1="737.3" x2="829.2" y2="732.3" stroke="#e2e2e2" stroke-width="1" />
<line x1="835.1" y1="739.2" x2="836.1" y2="734.2" stroke="#e2e2e2" stroke-width="1" />
<line x1="842.0" y1="741.2" x2="843.0" y2="736.2" stroke="#e2e2e2" stroke-width="1" />
<line x1="848.9" y1="743.2" x2="849.9" y2="733.2" stroke="#e2e2e2" stroke-width="1" />
<line x1="855.8" y1="745.1" x2="856.8" y2="740.1" stroke="#e2e2e2" stroke-width="1" />
<line x1="862.7" y1="747.1" x2="863.7" y2="742.1" stroke="#e2e2e2" stroke-width="1" />
<line x1="869.6" y1="749.1" x2="870.6" y2="744.1" stroke="#e2e2e2" stroke-width="1" />
<line x1="876.4" y1="751.0" x2="877.4" y2="746.0" stroke="#e2e2e2" stroke-width="1" />
<line x1="883.3" y1="753.0" x2="884.3" y2="743.0" stroke="#e2e2e2" stroke-width="1" />
<line x1="890.2" y1="755.0" x2="891.2" y2="750.0" stroke="#e2e2e2" stroke-width="1" />
<line x1="897.1" y1="756.9" x2="898.1" y2="751.9" stroke="#e2e2e2" stroke-width="1" />
<line x1="904.0" y1="758.9" x2="905.0" y2="753.9" stroke="#e2e2e2" stroke-width="1" />
<line x1="910.9" y1="760.9" x2="911.9" y2="755.9" stroke="#e2e2e2" stroke-width="1" />
<line x1="917.8" y1="762.8" x2="918.8" y2="752.8" stroke="#e2e2e2" stroke-width="1" />
<line x1="924.7" y1="764.8" x2="925.7" y2="759.8" stroke="#e2e2e2" stroke-width="1" />
<line x1="931.6" y1="766.8" x2="932.6" y2="761.8" stroke="#e2e2e2" stroke-width="1" />
<line x1="938.4" y1="768.7" x2="939.4" y2="763.7" stroke="#e2e2e2" stroke-width="1" />
<line x1="945.3" y1="770.7" x2="946.3" y2="765.7" stroke="#e2e2e2" stroke-width="1" />
<line x1="952.2" y1="772.7" x2="953.2" y2="762.7" stroke="#e2e2e2" stroke-width="1" />
<line x1="959.1" y1="774.6" x2="960.1" y2="769.6" stroke="#e2e2e2" stroke-width="1" />
<line x1="966.0" y1="776.6" x2="967.0" y2="771.6" stroke="#e2e2e2" stroke-width="1" />
<line x1="972.9" y1="778.6" x2="973.9" y2="773.6" stroke="#e2e2e2" stroke-width="1" />
<line x1="979.8" y1="780.5" x2="980.8" y2="775.5" stroke="#e2e2e2" stroke-width="1" />
<line x1="986.7" y1="782.5" x2="987.7" y2="772.5" stroke="#e2e2e2" stroke-width="1" />
<line x1="993.6" y1="784.5" x2="994.6" y2="779.5" stroke="#e2e2e2" stroke-width="1" />
<line x1="1000.4" y1="786.4" x2="1001.4" y2="781.4" stroke="#e2e2e2" stroke-width="1" />
<line x1="1007.3" y1="788.4" x2="1008.3" y2="783.4" stroke="#e2e2e2" stroke-width="1" />
<line x1="1014.2" y1="790.4" x2="1015.2" y2="785.4" stroke="#e2e2e2" stroke-width="1" />
<line x1="1021.1" y1="792.3" x2="1022.1" y2="782.3" stroke="#e2e2e2" stroke-width="1" />
<line x1="1028.0" y1="794.3" x2="1029.0" y2="789.3" stroke="#e2e2e2" stroke-width="1" />
<line x1="1034.9" y1="796.3" x2="1035.9" y2="791.3" stroke="#e2e2e2" stroke-width="1" />
<line x1="1041.8" y1="798.2" x2="1042.8" y2="793.2" stroke="#e2e2e2" stroke-width="1" />
<line x1="1048.7" y1="800.2" x2="1049.7" y2="795.2" stroke="#e2e2e2" stroke-width="1" />
<line x1="1055.6" y1="802.2" x2="1056.6" y2="792.2" stroke="#e2e2e2" stroke-width="1" />
<line x1="1062.4" y1="804.1" x2="1063.4" y2="799.1" stroke="#e2e2e2" stroke-width="1" />
<line x1="1069.3" y1="806.1" x2="1070.3" y2="801.1" stroke="#e2e2e2" stroke-width="1" />
<line x1="1076.2" y1="808.1" x2="1077.2" y2="803.1" stroke="#e2e2e2" stroke-width="1" />
<line x1="1083.1" y1="810.0" x2="1084.1" y2="805.0" stroke="#e2e2e2" stroke-width="1" />
</g>
<polygon points="712.0,668.0 752.0,676.0 757.0,712.0 716.0,702.0" fill="#3aa7b3" opacity="0.55"/>
<polyline points="377,621 660,710 1000,797 1100,824" fill="none" stroke="#d5d6d8" stroke-width="2.5"/>
<polygon points="355.0,530.0 1192.0,730.5 1185.0,770.0 352.0,562.0" fill="url(#rail)" />
<line x1="356.0" y1="540.0" x2="1190.0" y2="741.0" stroke="#f4f4f5" stroke-width="2" opacity="0.8"/>
<polygon points="1100.0,770.0 1165.0,780.0 1178.0,815.0 1105.0,808.0" fill="#101011" />
<polygon points="1155.0,831.0 1194.7,732.4 1232.0,739.8 1287.7,826.8 1009.1,1139.6 1009.0,1071.0" fill="#2a2a2c" />
<polygon points="1194.7,732.4 1204.7,723.6 1213.4,723.0 1218.4,708.7 1224.6,703.1 1262.0,712.4 1232.0,739.8" fill="#141415" />
<polygon points="1194.7,732.4 1232.0,739.8 1209.7,833.3 1156.0,830.8" fill="#0d0d0e" />
<linearGradient id="rtf" x1="0" y1="0" x2="0" y2="1"><stop offset="0" stop-color="#3e3e40"/><stop offset="1" stop-color="#59595b"/></linearGradient>
<polygon points="1232.0,739.8 1262.0,712.4 1287.7,826.8 1216.9,897.6 1153.0,906.8 1212.3,829.0" fill="url(#rtf)" />
<line x1="1194.7" y1="733.0" x2="1156.0" y2="830.0" stroke="#8a8a8c" stroke-width="1.2" opacity="0.7"/>
<polygon points="1287.7,826.8 1009.1,1139.6 1009.0,1071.0 1216.9,897.6" fill="#434244" />
<linearGradient id="rbt" x1="0" y1="0" x2="1" y2="1"><stop offset="0" stop-color="#444446"/><stop offset="1" stop-color="#2c2c2e"/></linearGradient>
<polygon points="1041.0,829.0 1212.3,829.0 1153.0,906.8 1022.8,877.0" fill="url(#rbt)" />
<linearGradient id="cct" x1="0" y1="0" x2="1" y2="0.3"><stop offset="0" stop-color="#c9cacc"/><stop offset="0.5" stop-color="#dcdddf"/><stop offset="1" stop-color="#cfd0d2"/></linearGradient>
<polygon points="1013.7,883.9 1146.0,900.0 1153.0,908.0 1091.3,975.3 968.0,954.0 981.0,935.0" fill="url(#cct)" />
<ellipse cx="1112" cy="936" rx="22" ry="17" fill="#e6e7e8" opacity="0.6"/>
<polygon points="1091.3,975.3 1153.0,908.0 1157.5,943.3 1091.0,993.5" fill="#c6c7c9" />
<line x1="1091.3" y1="975.3" x2="1153.0" y2="908.0" stroke="#f2f2f2" stroke-width="2" />
<polygon points="1091.0,993.5 1157.5,943.3 1157.5,958.0 1091.0,1016.0" fill="#070708" />
<polygon points="968.0,954.0 1091.3,975.3 1091.0,1016.0 1009.0,1071.0 900.0,1041.0" fill="#2a2a2b" />
<circle cx="1009" cy="920" r="4" fill="#a9aaac"/>
<path d="M543.3,609.6 C544,585 550,550 569.9,525.8 L609.7,530 L646.3,536.6 L662.9,543.2 L651,600 L643,629.6 L551.6,608 Z" fill="url(#teal)"/>
<path d="M649.6,642.9 L651.2,609.6 L659.5,589.7 L674.5,574.8 L691.1,566.5 L709.4,573.1 L721,588 L727.6,612.1 L700,640 L660,648 Z" fill="#9fd2d8" opacity="0.9"/>
<path d="M644.6,642.9 L638,584.7 L646.3,551.5 L662.9,543.2 L696,550.7 L721,555.7 L739.3,566.5 L750.9,584.7 L753.4,599.7 L727.6,612.1 L721,588 L709.4,573.1 L691.1,566.5 L674.5,574.8 L659.5,589.7 L651.2,609.6 L649.6,642.9 Z" fill="#56c2cf"/>
<path d="M662,548 L700,556 L735,572 L748,596 L742,599 L728,576 L700,562 L668,560 Z" fill="#9ad9e0" opacity="0.8"/>
<polygon points="594.0,542.0 606.4,541.6 586.0,575.0 577.0,573.5" fill="#2a8791" opacity="0.8"/>
<polygon points="552.0,585.0 640.0,600.0 641.0,612.0 551.0,598.0" fill="#a8e0e6" opacity="0.6"/>
<polygon points="551.6,608.0 643.0,629.6 646.3,686.0 556.6,669.4" fill="url(#silv)" />
<polygon points="643.0,629.6 656.0,626.0 658.0,679.0 646.3,686.0" fill="#a4a6a9" />
<ellipse cx="676" cy="631" rx="15" ry="28" fill="#76787b"/>
<ellipse cx="678" cy="631" rx="10" ry="21" fill="#c3c5c7"/>
<ellipse cx="680" cy="631" rx="5" ry="11" fill="#9a9c9f"/>
<polygon points="420.0,896.0 596.0,953.0 596.0,1010.0 588.5,954.6 432.4,924.7" fill="#161618" />
<polygon points="311.0,1084.0 432.4,924.7 588.5,954.6 440.7,1126.0" fill="#38383a" />
<g fill="none">
<line x1="389.2" y1="1063.9" x2="482.5" y2="947.5" stroke="#e0e0e0" stroke-width="1.1"  opacity="0.7"/>
<line x1="402.1" y1="1067.6" x2="497.2" y2="950.5" stroke="#e0e0e0" stroke-width="1.1" stroke-dasharray="3,3" opacity="0.7"/>
<line x1="414.9" y1="1071.4" x2="511.8" y2="953.4" stroke="#e0e0e0" stroke-width="1.1" stroke-dasharray="3,3" opacity="0.7"/>
<line x1="427.8" y1="1075.1" x2="526.5" y2="956.3" stroke="#e0e0e0" stroke-width="1.1" stroke-dasharray="3,3" opacity="0.7"/>
<line x1="440.7" y1="1078.9" x2="541.1" y2="959.2" stroke="#e0e0e0" stroke-width="1.1" stroke-dasharray="3,3" opacity="0.7"/>
<line x1="453.6" y1="1082.6" x2="555.8" y2="962.1" stroke="#e0e0e0" stroke-width="1.1" stroke-dasharray="3,3" opacity="0.7"/>
<line x1="466.4" y1="1086.3" x2="570.4" y2="965.1" stroke="#e0e0e0" stroke-width="1.1" stroke-dasharray="3,3" opacity="0.7"/>
<line x1="389.2" y1="1063.9" x2="466.4" y2="1086.3" stroke="#e0e0e0" stroke-width="1.1" stroke-dasharray="3,3" opacity="0.7"/>
<line x1="404.7" y1="1044.6" x2="483.7" y2="1066.2" stroke="#e0e0e0" stroke-width="1.1" stroke-dasharray="3,3" opacity="0.7"/>
<line x1="420.2" y1="1025.2" x2="501.0" y2="1046.0" stroke="#e0e0e0" stroke-width="1.1" stroke-dasharray="3,3" opacity="0.7"/>
<line x1="435.7" y1="1005.9" x2="518.3" y2="1025.9" stroke="#e0e0e0" stroke-width="1.1" stroke-dasharray="3,3" opacity="0.7"/>
<line x1="451.2" y1="986.5" x2="535.6" y2="1005.7" stroke="#e0e0e0" stroke-width="1.1" stroke-dasharray="3,3" opacity="0.7"/>
<line x1="466.7" y1="967.2" x2="552.9" y2="985.6" stroke="#e0e0e0" stroke-width="1.1" stroke-dasharray="3,3" opacity="0.7"/>
<line x1="482.3" y1="947.9" x2="570.1" y2="965.4" stroke="#e0e0e0" stroke-width="1.1" stroke-dasharray="3,3" opacity="0.7"/>
<line x1="357.7" y1="1048.9" x2="461.3" y2="1078.5" stroke="#e8e8e8" stroke-width="1.4" opacity="0.85"/>
<line x1="464.3" y1="1017.6" x2="514.8" y2="1030.0" stroke="#e8e8e8" stroke-width="1.3" opacity="0.8"/>
<line x1="481.6" y1="1021.8" x2="435.3" y2="1077.3" stroke="#e8e8e8" stroke-width="1.3" opacity="0.8"/>
</g>
<text x="0" y="0" transform="translate(427,1080) rotate(198)" font-family="Liberation Sans" font-weight="bold" font-size="10" fill="#dddddd">A4 297X210mm</text>
<g stroke="#d8d8d8" stroke-width="1" opacity="0.75">
<line x1="373.2" y1="1067.3" x2="382.5" y2="1070.3" stroke="#d8d8d8" stroke-width="1" />
<line x1="376.5" y1="1063.0" x2="381.2" y2="1064.5" stroke="#d8d8d8" stroke-width="1" />
<line x1="379.9" y1="1058.8" x2="384.6" y2="1060.3" stroke="#d8d8d8" stroke-width="1" />
<line x1="383.3" y1="1054.6" x2="387.9" y2="1056.1" stroke="#d8d8d8" stroke-width="1" />
<line x1="386.6" y1="1050.3" x2="391.3" y2="1051.8" stroke="#d8d8d8" stroke-width="1" />
<line x1="390.0" y1="1046.1" x2="399.3" y2="1049.1" stroke="#d8d8d8" stroke-width="1" />
<line x1="393.4" y1="1041.9" x2="398.0" y2="1043.4" stroke="#d8d8d8" stroke-width="1" />
<line x1="396.7" y1="1037.6" x2="401.4" y2="1039.1" stroke="#d8d8d8" stroke-width="1" />
<line x1="400.1" y1="1033.4" x2="404.7" y2="1034.9" stroke="#d8d8d8" stroke-width="1" />
<line x1="403.4" y1="1029.1" x2="408.1" y2="1030.6" stroke="#d8d8d8" stroke-width="1" />
<line x1="406.8" y1="1024.9" x2="416.1" y2="1027.9" stroke="#d8d8d8" stroke-width="1" />
<line x1="410.2" y1="1020.7" x2="414.8" y2="1022.2" stroke="#d8d8d8" stroke-width="1" />
<line x1="413.5" y1="1016.4" x2="418.2" y2="1017.9" stroke="#d8d8d8" stroke-width="1" />
<line x1="416.9" y1="1012.2" x2="421.5" y2="1013.7" stroke="#d8d8d8" stroke-width="1" />
<line x1="420.3" y1="1008.0" x2="424.9" y2="1009.5" stroke="#d8d8d8" stroke-width="1" />
<line x1="423.6" y1="1003.7" x2="432.9" y2="1006.7" stroke="#d8d8d8" stroke-width="1" />
<line x1="427.0" y1="999.5" x2="431.6" y2="1001.0" stroke="#d8d8d8" stroke-width="1" />
<line x1="430.3" y1="995.3" x2="435.0" y2="996.8" stroke="#d8d8d8" stroke-width="1" />
<line x1="433.7" y1="991.0" x2="438.4" y2="992.5" stroke="#d8d8d8" stroke-width="1" />
<line x1="437.1" y1="986.8" x2="441.7" y2="988.3" stroke="#d8d8d8" stroke-width="1" />
<line x1="440.4" y1="982.5" x2="449.7" y2="985.5" stroke="#d8d8d8" stroke-width="1" />
<line x1="443.8" y1="978.3" x2="448.4" y2="979.8" stroke="#d8d8d8" stroke-width="1" />
<line x1="447.2" y1="974.1" x2="451.8" y2="975.6" stroke="#d8d8d8" stroke-width="1" />
<line x1="450.5" y1="969.8" x2="455.2" y2="971.3" stroke="#d8d8d8" stroke-width="1" />
<line x1="453.9" y1="965.6" x2="458.5" y2="967.1" stroke="#d8d8d8" stroke-width="1" />
<line x1="457.2" y1="961.4" x2="466.5" y2="964.4" stroke="#d8d8d8" stroke-width="1" />
<line x1="460.6" y1="957.1" x2="465.3" y2="958.6" stroke="#d8d8d8" stroke-width="1" />
<line x1="464.0" y1="952.9" x2="468.6" y2="954.4" stroke="#d8d8d8" stroke-width="1" />
<line x1="467.3" y1="948.7" x2="472.0" y2="950.2" stroke="#d8d8d8" stroke-width="1" />
<line x1="470.7" y1="944.4" x2="475.3" y2="945.9" stroke="#d8d8d8" stroke-width="1" />
</g>
<polygon points="311.0,1084.0 440.7,1126.0 452.0,1170.5 316.0,1122.0" fill="#38373a" />
<polygon points="440.7,1126.0 588.5,954.6 595.0,1012.7 452.0,1170.5" fill="#2a2a2c" />
<g clip-path="url(#c1)">
<rect x="70" y="360" width="200" height="200" fill="#262628"/>
<g stroke="#e0e0e0" stroke-width="1.2" fill="none" opacity="0.8"><path d="M136,375 C118,410 112,450 112,465 C112,490 118,510 122,520"/><line x1="95" y1="370" x2="180" y2="390"/><line x1="100" y1="426" x2="200" y2="426"/></g>
<text x="0" y="0" transform="translate(92,436) rotate(-90)" font-family="Liberation Sans" font-size="12" fill="#e0e0e0">30°</text>
<text x="0" y="0" transform="translate(99,480) rotate(-90)" font-family="Liberation Sans" font-size="12" fill="#e0e0e0">45°</text>
<g transform="rotate(-43 170 458)">
<rect x="0" y="411" width="340" height="2.5" fill="#f2f2f2"/>
<rect x="0" y="413.5" width="340" height="17" fill="#5e5f61"/>
<rect x="0" y="430.5" width="340" height="22" fill="#d8d8d8"/>
<rect x="0" y="452.5" width="340" height="5" fill="#f5f5f5"/>
<rect x="0" y="457.5" width="340" height="16" fill="#dcdcdc"/>
<rect x="0" y="473.5" width="340" height="3" fill="#f2f2f2"/>
<rect x="0" y="476.5" width="340" height="11" fill="#d4d4d4"/>
<rect x="0" y="487.5" width="340" height="34" fill="#4a4a4c"/>
<rect x="0" y="521.5" width="340" height="2" fill="#cfcfcf"/>
<rect x="0" y="523.5" width="340" height="60" fill="#1d1d1f"/>
<rect x="0" y="531" width="340" height="1.5" fill="#8a8a8a"/>
<rect x="0" y="538" width="340" height="1.5" fill="#8a8a8a"/>
</g></g>
<circle cx="170" cy="458" r="91" fill="none" stroke="#33639a" stroke-width="2.5"/>
<g clip-path="url(#c2)">
<rect x="880" y="315" width="260" height="260" fill="#29292b"/>
<polygon points="880.0,300.0 1160.0,300.0 1160.0,267.0 880.0,378.4" fill="#dfe2e5" />
<g stroke="#d0d0d0" stroke-width="1" opacity="0.55" stroke-dasharray="3,2">
<line x1="880.0" y1="332.0" x2="1140.0" y2="222.8" stroke="#d0d0d0" stroke-width="1" />
<line x1="880.0" y1="346.5" x2="1140.0" y2="237.3" stroke="#d0d0d0" stroke-width="1" />
<line x1="880.0" y1="361.0" x2="1140.0" y2="251.8" stroke="#d0d0d0" stroke-width="1" />
<line x1="880.0" y1="375.5" x2="1140.0" y2="266.3" stroke="#d0d0d0" stroke-width="1" />
<line x1="880.0" y1="390.0" x2="1140.0" y2="280.8" stroke="#d0d0d0" stroke-width="1" />
<line x1="880.0" y1="404.5" x2="1140.0" y2="295.3" stroke="#d0d0d0" stroke-width="1" />
<line x1="880.0" y1="419.0" x2="1140.0" y2="309.8" stroke="#d0d0d0" stroke-width="1" />
<line x1="880.0" y1="433.5" x2="1140.0" y2="324.3" stroke="#d0d0d0" stroke-width="1" />
<line x1="880.0" y1="448.0" x2="1140.0" y2="338.8" stroke="#d0d0d0" stroke-width="1" />
<line x1="880.0" y1="462.5" x2="1140.0" y2="353.3" stroke="#d0d0d0" stroke-width="1" />
<line x1="880.0" y1="477.0" x2="1140.0" y2="367.8" stroke="#d0d0d0" stroke-width="1" />
<line x1="880.0" y1="491.5" x2="1140.0" y2="382.3" stroke="#d0d0d0" stroke-width="1" />
<line x1="880.0" y1="506.0" x2="1140.0" y2="396.8" stroke="#d0d0d0" stroke-width="1" />
<line x1="880.0" y1="520.5" x2="1140.0" y2="411.3" stroke="#d0d0d0" stroke-width="1" />
<line x1="880.0" y1="535.0" x2="1140.0" y2="425.8" stroke="#d0d0d0" stroke-width="1" />
<line x1="880.0" y1="549.5" x2="1140.0" y2="440.3" stroke="#d0d0d0" stroke-width="1" />
<line x1="880.0" y1="564.0" x2="1140.0" y2="454.8" stroke="#d0d0d0" stroke-width="1" />
<line x1="880.0" y1="578.5" x2="1140.0" y2="469.3" stroke="#d0d0d0" stroke-width="1" />
<line x1="880.0" y1="593.0" x2="1140.0" y2="483.8" stroke="#d0d0d0" stroke-width="1" />
<line x1="880.0" y1="607.5" x2="1140.0" y2="498.3" stroke="#d0d0d0" stroke-width="1" />
<line x1="832.0" y1="320.0" x2="887.0" y2="580.0" stroke="#d0d0d0" stroke-width="1" />
<line x1="849.0" y1="320.0" x2="904.0" y2="580.0" stroke="#d0d0d0" stroke-width="1" />
<line x1="866.0" y1="320.0" x2="921.0" y2="580.0" stroke="#d0d0d0" stroke-width="1" />
<line x1="883.0" y1="320.0" x2="938.0" y2="580.0" stroke="#d0d0d0" stroke-width="1" />
<line x1="900.0" y1="320.0" x2="955.0" y2="580.0" stroke="#d0d0d0" stroke-width="1" />
<line x1="917.0" y1="320.0" x2="972.0" y2="580.0" stroke="#d0d0d0" stroke-width="1" />
<line x1="934.0" y1="320.0" x2="989.0" y2="580.0" stroke="#d0d0d0" stroke-width="1" />
<line x1="951.0" y1="320.0" x2="1006.0" y2="580.0" stroke="#d0d0d0" stroke-width="1" />
<line x1="968.0" y1="320.0" x2="1023.0" y2="580.0" stroke="#d0d0d0" stroke-width="1" />
<line x1="985.0" y1="320.0" x2="1040.0" y2="580.0" stroke="#d0d0d0" stroke-width="1" />
<line x1="1002.0" y1="320.0" x2="1057.0" y2="580.0" stroke="#d0d0d0" stroke-width="1" />
<line x1="1019.0" y1="320.0" x2="1074.0" y2="580.0" stroke="#d0d0d0" stroke-width="1" />
<line x1="1036.0" y1="320.0" x2="1091.0" y2="580.0" stroke="#d0d0d0" stroke-width="1" />
<line x1="1053.0" y1="320.0" x2="1108.0" y2="580.0" stroke="#d0d0d0" stroke-width="1" />
<line x1="1070.0" y1="320.0" x2="1125.0" y2="580.0" stroke="#d0d0d0" stroke-width="1" />
<line x1="1087.0" y1="320.0" x2="1142.0" y2="580.0" stroke="#d0d0d0" stroke-width="1" />
<line x1="1104.0" y1="320.0" x2="1159.0" y2="580.0" stroke="#d0d0d0" stroke-width="1" />
<line x1="1121.0" y1="320.0" x2="1176.0" y2="580.0" stroke="#d0d0d0" stroke-width="1" />
</g>
<g stroke="#e0e0e0" stroke-width="1.3" opacity="0.8"><line x1="1027" y1="330" x2="1050" y2="450"/><line x1="960" y1="380" x2="1140" y2="305"/><line x1="1010" y1="460" x2="1140" y2="405"/></g>
<polygon points="886.3,446.7 916.0,443.1 925.0,448.5 943.0,472.0 970.0,482.7 991.6,491.7 980.8,506.0 905.2,504.3 886.3,490.0" fill="#d4d6d8" />
<polygon points="886.0,490.0 905.2,504.3 980.8,506.0 988.0,565.0 886.0,565.0" fill="#1e1e20" />
<polygon points="975.0,545.0 1000.0,535.0 1010.0,565.0 980.0,565.0" fill="#c0c2c4" />
<path d="M912.4,416.2 L962.8,391 L1029.3,355 L1065.3,338.8 L1067.1,362.2 L1042,385.6 L1038.3,427 L1058.1,452.1 L995.1,489.9 L991.6,506.1 L980.8,504.3 L964.6,482.7 L952,464.7 L925,439.5 L914.2,427 Z" fill="#62c7d3" opacity="0.92"/>
<polygon points="945.0,420.0 1000.0,395.0 1035.0,400.0 1038.0,440.0 1000.0,470.0 965.0,465.0" fill="#a9dfe6" opacity="0.8"/>
<polygon points="1005.0,362.0 1062.0,342.0 1064.0,360.0 1040.0,383.0 1010.0,392.0" fill="#9edbe2" opacity="0.7"/>
<polygon points="991.6,491.7 1059.9,450.3 1088.7,452.1 1113.9,471.9 1122.0,507.9 1113.9,534.9 1077.9,549.3 1023.9,561.9 988.0,561.9" fill="#d3d5d7" />
<ellipse cx="1043" cy="522" rx="25" ry="29" fill="#e9542a"/>
<path d="M1005,525 C1010,505 1025,505 1030,525 C1034,545 1030,565 1015,565 L998,565 Z" fill="#c4c6c8"/>
<ellipse cx="1018" cy="536" rx="8" ry="14" fill="#8a8c8f"/>
</g>
<circle cx="1008.5" cy="441" r="121" fill="none" stroke="#33639a" stroke-width="2.5"/>
<g clip-path="url(#c3)">
<rect x="505" y="1125" width="260" height="260" fill="#1c1c1e"/>
<polygon points="589.0,1182.0 640.0,1134.0 770.0,1160.0 770.0,1230.0 740.0,1223.0" fill="#38383a" />
<g stroke="#cfcfcf" stroke-width="1" opacity="0.7">
<line x1="570.0" y1="1150.0" x2="570.0" y2="1161.0" stroke="#cfcfcf" stroke-width="1" />
<line x1="573.2" y1="1148.4" x2="573.2" y2="1159.4" stroke="#cfcfcf" stroke-width="1" />
<line x1="576.4" y1="1146.8" x2="576.4" y2="1157.8" stroke="#cfcfcf" stroke-width="1" />
<line x1="579.6" y1="1145.2" x2="579.6" y2="1156.2" stroke="#cfcfcf" stroke-width="1" />
<line x1="582.8" y1="1143.6" x2="582.8" y2="1154.6" stroke="#cfcfcf" stroke-width="1" />
<line x1="586.0" y1="1142.0" x2="586.0" y2="1153.0" stroke="#cfcfcf" stroke-width="1" />
<line x1="589.2" y1="1140.4" x2="589.2" y2="1151.4" stroke="#cfcfcf" stroke-width="1" />
<line x1="592.4" y1="1138.8" x2="592.4" y2="1149.8" stroke="#cfcfcf" stroke-width="1" />
<line x1="595.6" y1="1137.2" x2="595.6" y2="1148.2" stroke="#cfcfcf" stroke-width="1" />
<line x1="598.8" y1="1135.6" x2="598.8" y2="1146.6" stroke="#cfcfcf" stroke-width="1" />
<line x1="602.0" y1="1134.0" x2="602.0" y2="1145.0" stroke="#cfcfcf" stroke-width="1" />
<line x1="605.2" y1="1132.4" x2="605.2" y2="1143.4" stroke="#cfcfcf" stroke-width="1" />
</g>
<path d="M515,1212 L522,1232 L514,1234" fill="none" stroke="#dddddd" stroke-width="1"/>
<linearGradient id="c3s" x1="0" y1="0" x2="1" y2="1"><stop offset="0" stop-color="#d9dadc"/><stop offset="0.6" stop-color="#cfd0d2"/><stop offset="1" stop-color="#c3c4c6"/></linearGradient>
<polygon points="512.2,1256.3 539.2,1247.3 573.4,1215.0 575.2,1197.0 589.6,1184.4 735.3,1223.0 738.9,1225.8 623.7,1315.7 512.2,1283.3" fill="url(#c3s)" />
<line x1="589.6" y1="1183.0" x2="738.0" y2="1223.0" stroke="#0b0b0c" stroke-width="2" />
<polygon points="539.2,1247.3 573.4,1215.0 577.0,1232.0 560.0,1248.0" fill="#a9aaac" />
<circle cx="564.4" cy="1233" r="4.5" fill="#b9babc" stroke="#77787a" stroke-width="1"/>
<polygon points="623.7,1315.7 737.0,1225.8 740.8,1263.5 627.3,1350.0" fill="#e3e3e4" />
<polygon points="627.3,1350.0 740.8,1263.5 744.0,1276.0 631.0,1362.0" fill="#070708" />
<polygon points="631.0,1362.0 744.0,1276.0 770.0,1290.0 770.0,1400.0 640.0,1400.0" fill="#2c2c2e" />
<polygon points="512.0,1283.3 623.7,1315.7 631.0,1400.0 505.0,1400.0" fill="#1e1e20" />
</g>
<circle cx="632.5" cy="1252" r="121" fill="none" stroke="#33639a" stroke-width="2.5"/>
<g clip-path="url(#c4)">
<rect x="1150" y="1110" width="200" height="200" fill="#dcdcdc"/>
<polygon points="1150.0,1100.0 1350.0,1100.0 1350.0,1050.0 1150.0,1208.0" fill="#d2d2d2" />
<polygon points="1140.0,1215.0 1265.0,1105.0 1320.0,1105.0 1296.8,1133.4 1159.2,1236.9 1140.0,1250.0" fill="#0b0b0c" />
<polygon points="1159.2,1238.4 1296.8,1134.8 1328.0,1175.9 1302.5,1197.2 1278.4,1197.2 1211.7,1261.0 1206.0,1275.2 1197.5,1286.6 1173.4,1268.1 1150.0,1250.0" fill="#3c3c3e" />
<line x1="1159.0" y1="1237.6" x2="1297.0" y2="1134.0" stroke="#6a6a6c" stroke-width="2" />
<polygon points="1211.7,1259.6 1275.5,1201.5 1285.4,1210.0 1225.9,1268.1" fill="#c4c4c4" />
<line x1="1222.0" y1="1266.0" x2="1283.0" y2="1208.0" stroke="#f0f0f0" stroke-width="2" />
</g>
<circle cx="1246.5" cy="1210" r="91" fill="none" stroke="#33639a" stroke-width="2.5"/>
<polyline points="262.0,459.5 475.0,459.5 522.0,566.0" fill="none" stroke="#4a7ab3" stroke-width="2"/>
<polyline points="886.0,440.0 695.4,440.0 648.7,546.0" fill="none" stroke="#4a7ab3" stroke-width="2"/>
<polyline points="55.0,662.0 259.0,662.0 324.5,787.0" fill="none" stroke="#4a7ab3" stroke-width="2"/>
<polyline points="1130.0,643.0 927.5,643.0 880.8,730.0" fill="none" stroke="#4a7ab3" stroke-width="2"/>
<polyline points="1337.5,659.6 1173.0,659.6 1126.4,766.0" fill="none" stroke="#4a7ab3" stroke-width="2"/>
<polyline points="1128.7,1013.0 1238.4,1013.0 1238.4,1118.0" fill="none" stroke="#4a7ab3" stroke-width="2"/>
<polyline points="754.0,1226.3 943.8,1226.3 1046.0,940.0" fill="none" stroke="#4a7ab3" stroke-width="2"/>
<polyline points="95.2,1222.4 326.3,1222.4 391.0,1123.5" fill="none" stroke="#4a7ab3" stroke-width="2"/>
<circle cx="522" cy="566" r="10" fill="#2f6fb8"/><circle cx="522" cy="566" r="4.5" fill="#ffffff"/>
<circle cx="648.7" cy="546" r="10" fill="#2f6fb8"/><circle cx="648.7" cy="546" r="4.5" fill="#ffffff"/>
<circle cx="324.5" cy="787" r="10" fill="#2f6fb8"/><circle cx="324.5" cy="787" r="4.5" fill="#ffffff"/>
<circle cx="880.8" cy="730" r="10" fill="#2f6fb8"/><circle cx="880.8" cy="730" r="4.5" fill="#ffffff"/>
<circle cx="1126.4" cy="766" r="10" fill="#2f6fb8"/><circle cx="1126.4" cy="766" r="4.5" fill="#ffffff"/>
<circle cx="1128.7" cy="1013" r="10" fill="#2f6fb8"/><circle cx="1128.7" cy="1013" r="4.5" fill="#ffffff"/>
<circle cx="1046" cy="940" r="10" fill="#2f6fb8"/><circle cx="1046" cy="940" r="4.5" fill="#ffffff"/>
<circle cx="391" cy="1123.5" r="10" fill="#2f6fb8"/><circle cx="391" cy="1123.5" r="4.5" fill="#ffffff"/>
<text x="300.1" y="442" font-family="Liberation Sans" font-size="36" fill="#16171a" stroke="#dae8f5" stroke-width="0.9" textLength="175" lengthAdjust="spacingAndGlyphs">Guide Rail</text>
<text x="701.3" y="422.6" font-family="Liberation Sans" font-size="36" fill="#16171a" stroke="#dbe8f5" stroke-width="0.9" textLength="171" lengthAdjust="spacingAndGlyphs">Flip Cover</text>
<text x="55.2" y="640.5" font-family="Liberation Sans" font-size="36" fill="#16171a" stroke="#d3e4f2" stroke-width="0.9" textLength="169" lengthAdjust="spacingAndGlyphs">Baseplate</text>
<text x="940.5" y="625" font-family="Liberation Sans" font-size="36" fill="#16171a" stroke="#d4e4f2" stroke-width="0.9" textLength="188" lengthAdjust="spacingAndGlyphs">Pressboard</text>
<text x="1187.9" y="641.6" font-family="Liberation Sans" font-size="36" fill="#16171a" stroke="#d3e4f2" stroke-width="0.9" textLength="161" lengthAdjust="spacingAndGlyphs">Knife Pad</text>
<text x="1169.4" y="999.5" font-family="Liberation Sans" font-size="36" fill="#16171a" stroke="#c6dced" stroke-width="0.9" textLength="162" lengthAdjust="spacingAndGlyphs">Waste Bin</text>
<text x="767.6" y="1284.4" font-family="Liberation Sans" font-size="36" fill="#16171a" stroke="#bbd5e9" stroke-width="0.9" textLength="235" lengthAdjust="spacingAndGlyphs">Corner Cutter</text>
<text x="68.0" y="1284.9" font-family="Liberation Sans" font-size="36" fill="#16171a" stroke="#bbd5e9" stroke-width="0.9" textLength="299" lengthAdjust="spacingAndGlyphs">Cut A4 in borizon-</text>
<text x="68.9" y="1331.4" font-family="Liberation Sans" font-size="36" fill="#16171a" stroke="#b9d4e9" stroke-width="0.9" textLength="256" lengthAdjust="spacingAndGlyphs">tal and vertical</text></svg>
</body></html>
